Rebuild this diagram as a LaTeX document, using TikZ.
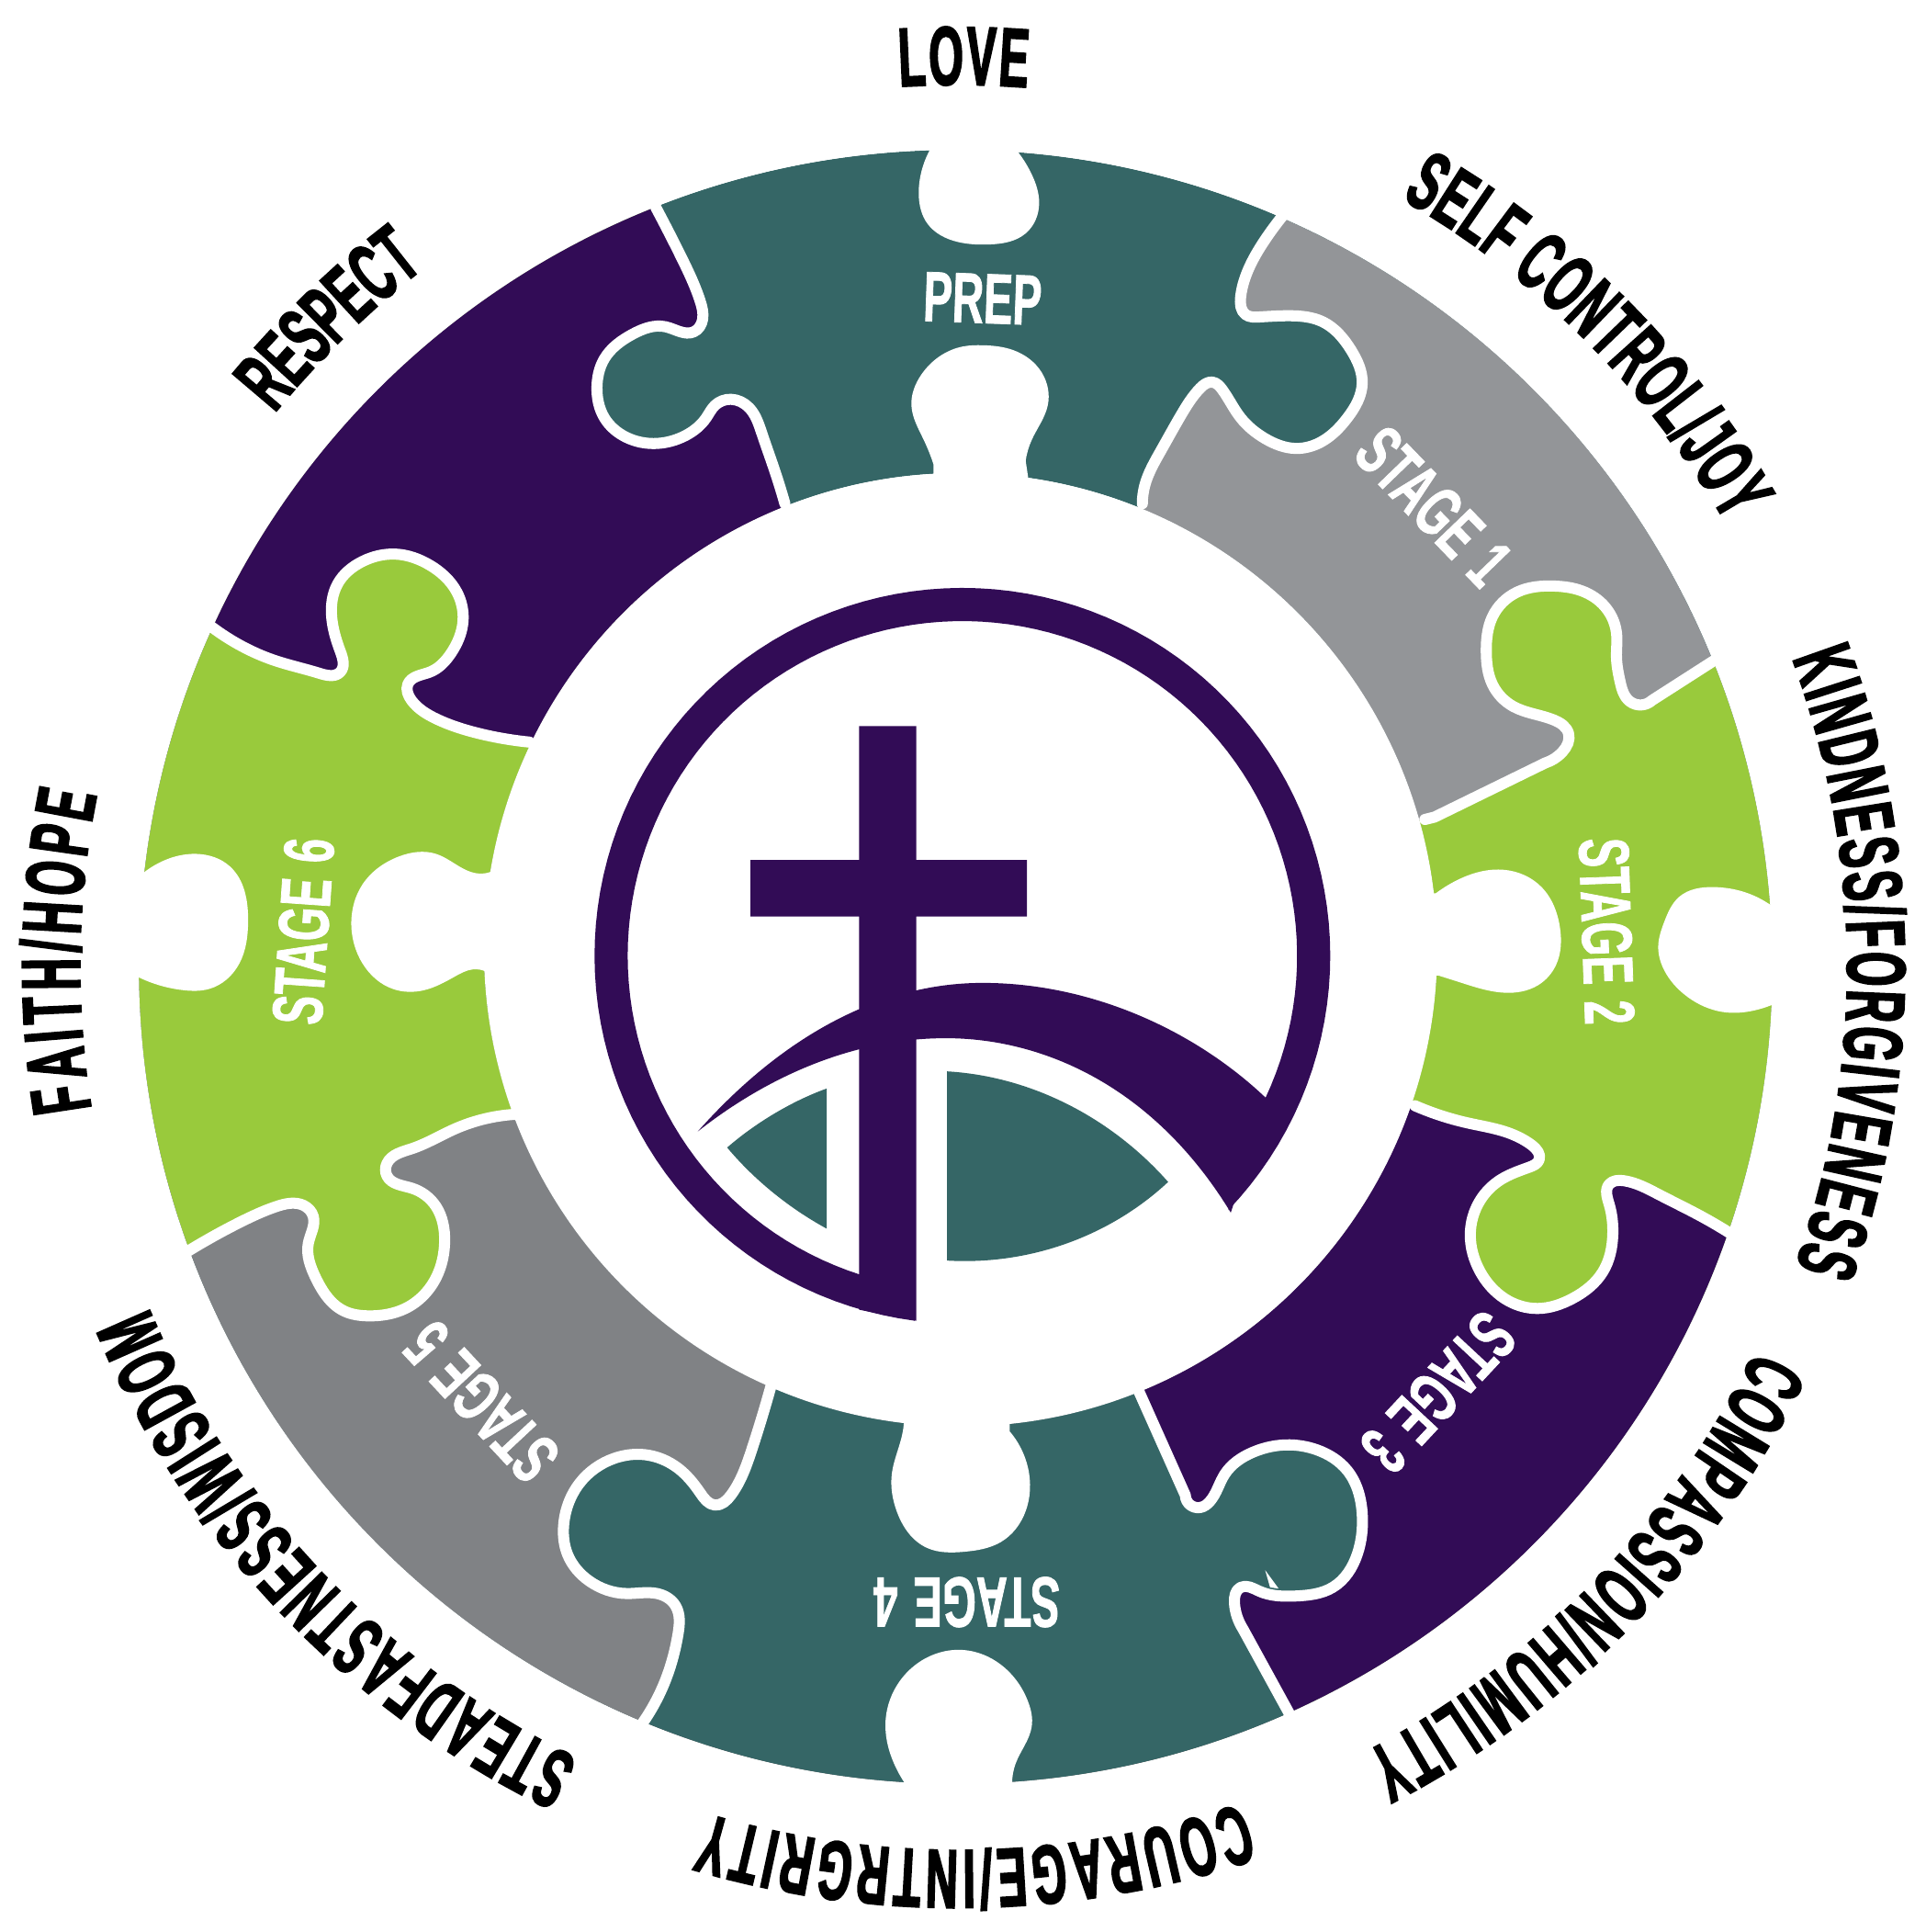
\documentclass[tikz,border=0pt]{standalone}
\usepackage{fontspec}
\usetikzlibrary{decorations.text,hobby}
\newfontfamily\labelfamily[FakeStretch=0.53,FakeBold=2]{Liberation Sans}
\newfontfamily\stagefamily[FakeStretch=0.61,FakeBold=1]{Liberation Sans}
\newcommand{\wordfont}{\labelfamily\bfseries\fontsize{34}{34}\selectfont}
\definecolor{tealpiece}{HTML}{356666}
\definecolor{greypiece}{HTML}{939598}
\definecolor{darkgrey}{HTML}{808285}
\definecolor{greenpiece}{HTML}{99CA3C}
\definecolor{purplepiece}{HTML}{320C56}
\tikzset{
  cutline/.style={white,line width=4.5pt,line cap=round,line join=round},
  stagetext/.style={white,font=\stagefamily\bfseries\fontsize{29}{29}\selectfont,inner sep=0pt}
}
\newcommand{\outerarc}[2]{-- plot[domain=#1:#2,samples=240] ({778+665*cos(\x)},{787+665*sin(\x)})}
\newcommand{\innerarc}[2]{-- plot[domain=#1:#2,samples=240] ({782+388*cos(\x)},{773+388*sin(\x)})}
\newcommand{\wordarc}[4]{\path[decorate,decoration={text along path,text={|\wordfont|#4},text align={fit to path}}] plot[domain=#2:#3,samples=60] ({780+#1*cos(\x)},{787+#1*sin(\x)});}
\newcommand{\bndprep}{-- (639,410) .. (632,387) .. (620,352) .. (610,332) .. (595,325) .. (582,330) .. (575,340) .. (555,356) .. (532,361) .. (510,356) .. (492,340) .. (486,315) .. (492,292) .. (515,272) .. (542,266) .. (565,270) .. (572,260) .. (570,245) .. (555,210) .. (534,169)}
\newcommand{\bndone}{(1044,176) .. (1030,195) .. (1016,220) .. (1010,242) .. (1014,256) .. (1025,258) .. (1050,257) .. (1077,262) .. (1100,285) .. (1109,312) .. (1097,340) .. (1075,360) .. (1055,365) .. (1030,357) .. (1010,340) .. (995,317) .. (987,311) .. (977,316) .. (962,337) .. (945,367) .. (932,395) .. (930,410)}
\newcommand{\bndtwo}{(1398,536) -- (1345,570) .. (1327,571) .. (1319,555) .. (1316,535) .. (1316,515) .. (1305,492) .. (1285,480) .. (1265,477) .. (1235,482) .. (1215,502) .. (1210,530) .. (1215,557) .. (1232,575) .. (1265,586) .. (1277,597) .. (1272,612) .. (1258,621) -- (1168,665) -- (1160,667)}
\newcommand{\bndthree}{(1412,1006) .. (1385,990) .. (1350,972) .. (1322,961) .. (1310,964) .. (1310,980) .. (1313,1005) .. (1305,1035) .. (1280,1057) .. (1252,1065) .. (1225,1057) .. (1205,1035) .. (1197,1005) .. (1205,977) .. (1222,960) .. (1245,950) .. (1253,944) .. (1247,932) .. (1225,921) .. (1195,914) .. (1152,900)}
\newcommand{\bndfour}{(1052,1399) -- (1012,1326) .. (1005,1305) .. (1010,1292) .. (1025,1295) .. (1055,1299) .. (1085,1292) .. (1105,1265) .. (1109,1232) .. (1097,1197) .. (1072,1180) .. (1050,1176) .. (1020,1182) .. (997,1200) .. (985,1222) .. (977,1227) .. (965,1217) -- (927,1132)}
\newcommand{\bndfive}{(522,1404) .. (542,1367) .. (552,1330) .. (550,1307) .. (535,1297) .. (510,1297) .. (480,1287) .. (462,1265) .. (459,1240) .. (472,1207) .. (500,1187) .. (525,1184) .. (552,1195) .. (570,1215) .. (582,1225) .. (595,1217) .. (612,1180) .. (628,1127)}
\newcommand{\bndsix}{(152,1019) .. (195,995) .. (225,982) .. (247,981) .. (255,990) .. (251,1012) .. (257,1040) .. (280,1067) .. (300,1071) .. (330,1065) .. (355,1040) .. (362,1010) .. (355,982) .. (335,967) .. (315,957) .. (315,947) .. (335,935) .. (370,919) .. (419,907)}
\newcommand{\bndseven}{(172,510) .. (197,526) .. (222,537) .. (260,548) .. (277,547) .. (277,530) .. (270,502) .. (275,475) .. (295,457) .. (322,451) .. (350,460) .. (372,482) .. (377,505) .. (367,532) .. (350,547) .. (332,557) .. (335,570) .. (355,585) .. (390,597) .. (431,604)}
\begin{document}
\begin{tikzpicture}[x=0.5pt,y=-0.5pt,use Hobby shortcut]
  \useasboundingbox (0,0) rectangle (1568,1572.5);
  % ring of pieces
  \fill[tealpiece,even odd rule] (778,787) circle[radius=665] (782,773) circle[radius=388];
  \fill[greypiece] \bndone \innerarc{292.2}{608.5} \bndprep \outerarc{608.5}{293.5} -- cycle;
  \fill[greenpiece] \bndtwo \innerarc{344.3}{608.5} \bndprep \outerarc{608.5}{338} -- cycle;
  \fill[purplepiece] \bndthree \innerarc{378.9}{608.5} \bndprep \outerarc{608.5}{379} -- cycle;
  \fill[tealpiece] \bndfour \innerarc{428}{608.5} \bndprep \outerarc{608.5}{425.9} -- cycle;
  \fill[darkgrey] \bndfive \innerarc{473.5}{608.5} \bndprep \outerarc{608.5}{472.5} -- cycle;
  \fill[greenpiece] \bndsix \innerarc{519.7}{608.5} \bndprep \outerarc{608.5}{519.7} -- cycle;
  \fill[purplepiece] \bndseven \innerarc{565.7}{608.5} \bndprep \outerarc{608.5}{564.6} -- cycle;
  \draw[white,line width=1.5pt] (778,787) circle[radius=666.5] (782,773) circle[radius=386.5];
  \draw[cutline] (639,410) \bndprep;
  \draw[cutline] \bndone;
  \draw[cutline] \bndtwo;
  \draw[cutline] \bndthree;
  \draw[cutline] \bndfour;
  \draw[cutline] \bndfive;
  \draw[cutline] \bndsix;
  \draw[cutline] \bndseven;
  % white notches
  \fill[white] (757,112) -- (757,122) .. (749,145) .. (748,160) .. (755,182) .. (780,197) .. (805,199) .. (835,190) .. (846,165) .. (840,142) .. (829,124) -- (829,112) -- cycle;
  \fill[white] (760,395) -- (760,378) .. (752,358) .. (742,330) .. (750,305) .. (784,282) .. (800,281) .. (825,285) .. (848,303) .. (853,330) .. (840,358) .. (835,375) -- (838,395) -- cycle;
  \fill[white] (1155,727) -- (1169,727) .. (1185,717) .. (1225,708) .. (1255,722) .. (1270,755) .. (1267,785) .. (1252,802) .. (1225,808) .. (1190,800) .. (1171,794) -- (1155,794) -- cycle;
  \fill[white] (1455,745) -- (1446,740) .. (1420,726) .. (1395,722) .. (1367,730) .. (1355,750) .. (1350,770) .. (1355,790) .. (1372,810) .. (1405,824) .. (1430,822) .. (1447,816) -- (1455,812) -- cycle;
  \fill[white] (736,1145) -- (736,1155) .. (735,1165) .. (726,1200) .. (730,1230) .. (755,1260) .. (785,1263) .. (815,1255) .. (835,1230) .. (837,1195) .. (822,1165) -- (822,1145) -- cycle;
  \fill[white] (737,1462) -- (737,1452) .. (730,1440) .. (721,1400) .. (735,1365) .. (765,1345) .. (785,1343) .. (815,1355) .. (837,1385) .. (840,1405) .. (827,1435) .. (824,1452) -- (824,1462) -- cycle;
  \fill[white] (410,708) -- (401,709) .. (390,711) .. (355,695) .. (325,697) .. (295,720) .. (286,750) .. (295,784) .. (320,805) .. (345,806) .. (370,795) .. (385,789) .. (396,791) -- (410,792) -- cycle;
  \fill[white] (100,716) -- (116,711) .. (130,702) .. (160,695) .. (187,705) .. (202,750) .. (195,784) .. (170,805) .. (150,806) .. (112,795) -- (100,790) -- cycle;
  \fill[white] (1030,1278) -- (1034,1292) -- (1041,1293) -- cycle;
  % stage names
  \node[stagetext,rotate=-2] (prep) at (800,243) {PREP};
  \node[stagetext,rotate=-46] (stageone) at (1167,412) {STAGE\hspace{.22em}1};
  \node[stagetext,rotate=-88] (stagetwo) at (1308,758) {STAGE\hspace{.22em}2};
  \node[stagetext,rotate=-133] (stagethree) at (1171,1133) {STAGE\hspace{.22em}3};
  \node[stagetext,rotate=180] (stagefour) at (787,1304) {STAGE\hspace{.22em}4};
  \node[stagetext,rotate=133] (stagefive) at (392,1141) {STAGE\hspace{.22em}5};
  \node[stagetext,rotate=86] (stagesix) at (247,758) {STAGE\hspace{.22em}6};
  % words round the outside
  \wordarc{718}{266.2}{274.5}{LOVE}
  \wordarc{722}{-60}{-30}{SELF CONTROL/JOY}
  \wordarc{724}{-20.3}{19.7}{KINDNESS/FORGIVENESS}
  \wordarc{720}{25.7}{62.7}{COMPASSION/HUMILITY}
  \wordarc{719}{71.3}{106.5}{COURAGE/INTRGRITY}
  \wordarc{715}{115.6}{157.2}{STEADFASTNESS/WISDOM}
  \wordarc{715}{170.7}{191.3}{FAITH/HOPE}
  \wordarc{716}{219}{232.6}{RESPECT}
  % logo
  \fill[purplepiece] plot[domain=97.4:403.7,samples=120] ({783.5+299.5*cos(\x)},{778+299.5*sin(\x)}) -- plot[domain=385.2:107.8,samples=120] ({783.5+272.5*cos(\x)},{778+272.5*sin(\x)}) -- cycle;
  \fill[purplepiece] (699.5,591) -- (746,591) -- (746,700) -- (836,700) -- (836,746) -- (746,746) -- (746,1075) -- (699.5,1066) -- (699.5,746) -- (611,746) -- (611,700) -- (699.5,700) -- cycle;
  \fill[purplepiece] (568,921) .. controls (640,840) and (720,800) .. (800,800) .. controls (890,800) and (975,840) .. (1032,895) -- (1002,987) .. controls (940,885) and (850,845) .. (770,845) .. controls (690,845) and (620,880) .. (568,921) -- cycle;
  \fill[tealpiece] (673,886) .. controls (645,896) and (615,914) .. (592,934) .. controls (612,958) and (640,982) .. (673,1000) -- cycle;
  \fill[tealpiece] (771,872) .. controls (840,876) and (905,910) .. (951,962) .. controls (905,1005) and (840,1030) .. (771,1026) -- cycle;
\end{tikzpicture}
\end{document}
